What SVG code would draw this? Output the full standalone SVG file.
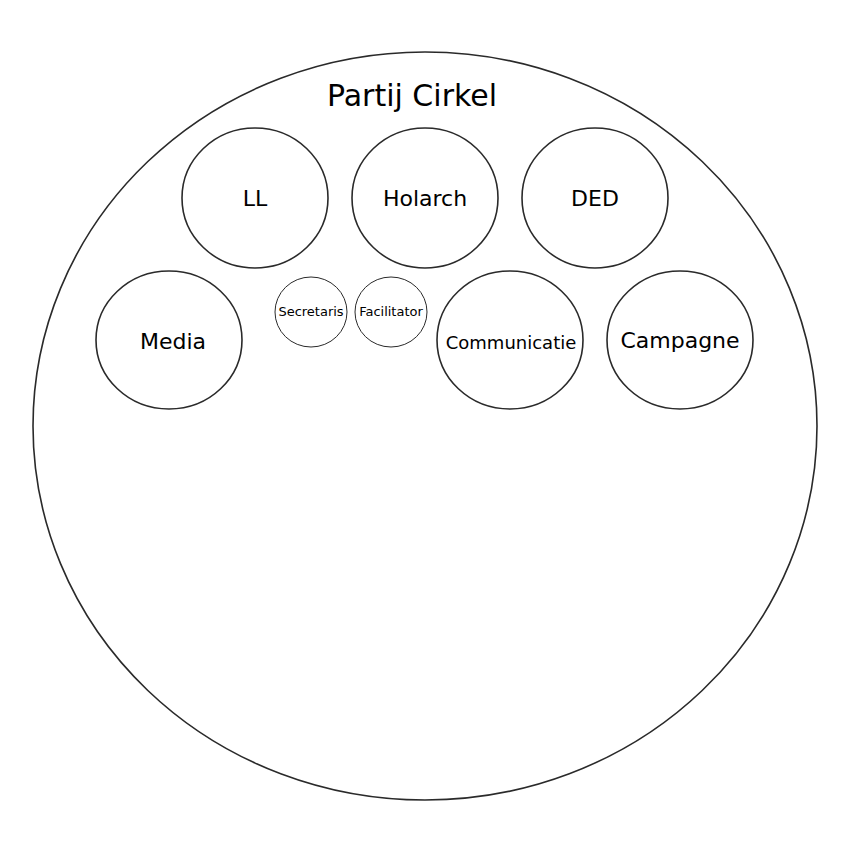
<svg xmlns="http://www.w3.org/2000/svg" width="850" height="850" viewBox="0 0 850 850">
<style>
.c{fill:#fff;stroke:#2a2a2a;stroke-width:1.6}
.s{fill:#fff;stroke:#2a2a2a;stroke-width:1}
text{font-family:"DejaVu Sans",sans-serif;fill:#000;text-anchor:middle}
.l{font-size:22px}
.m{font-size:18px}
.t{font-size:13px}
</style>
<rect width="850" height="850" fill="#fff"/>
<g id="partij">
<ellipse class="c" cx="425" cy="426" rx="392" ry="374" stroke-width="1.8"/>
<text x="412" y="106" style="font-size:30px">Partij Cirkel</text>
</g>
<g id="ll"><ellipse class="c" cx="255" cy="198" rx="73" ry="70"/><text class="l" x="255" y="206">LL</text></g>
<g id="holarch"><ellipse class="c" cx="425" cy="198" rx="73" ry="70"/><text class="l" x="425" y="206">Holarch</text></g>
<g id="ded"><ellipse class="c" cx="595" cy="198" rx="73" ry="70"/><text class="l" x="595" y="206">DED</text></g>
<g id="media"><ellipse class="c" cx="169" cy="340" rx="73" ry="69"/><text class="l" x="173" y="349">Media</text></g>
<g id="secretaris"><ellipse class="s" cx="311" cy="312" rx="36" ry="35"/><text class="t" x="311" y="316">Secretaris</text></g>
<g id="facilitator"><ellipse class="s" cx="391" cy="312" rx="36" ry="35"/><text class="t" x="391" y="316">Facilitator</text></g>
<g id="communicatie"><ellipse class="c" cx="510" cy="340" rx="73" ry="69"/><text class="m" x="511" y="349">Communicatie</text></g>
<g id="campagne"><ellipse class="c" cx="680" cy="340" rx="73" ry="69"/><text class="l" x="680" y="348">Campagne</text></g>
<g id="connectors"></g>
</svg>
